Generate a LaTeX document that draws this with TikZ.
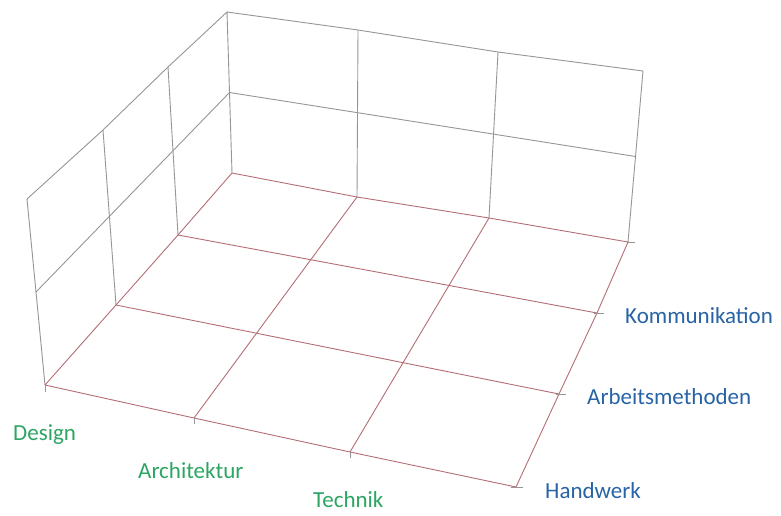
\documentclass[tikz,border=0pt]{standalone}
\usepackage{fontspec}
\setmainfont{Carlito}
\usetikzlibrary{calc}
\definecolor{wallgray}{RGB}{150,150,150}
\definecolor{floorred}{RGB}{180,110,118}
\definecolor{labgreen}{RGB}{45,165,100}
\definecolor{labblue}{RGB}{40,100,165}
\begin{document}
\begin{tikzpicture}[x=1pt,y=-1pt,
  wall/.style={draw=wallgray,line width=0.9pt},
  floorline/.style={draw=floorred,line width=0.9pt},
  tick/.style={draw=wallgray,line width=0.8pt},
  xlab/.style={anchor=base west,inner sep=0pt,text=labgreen,font=\fontsize{23}{26}\selectfont},
  ylab/.style={anchor=base west,inner sep=0pt,text=labblue,font=\fontsize{23}{26}\selectfont}]
\useasboundingbox[fill=white] (0,0) rectangle (781,515);
% floor corners and division points
\coordinate (FL) at (45,385);
\coordinate (L1) at (116,305);
\coordinate (L2) at (178,235);
\coordinate (BC) at (232,173);
\coordinate (F1) at (194,418);
\coordinate (F2) at (350,452);
\coordinate (FR) at (516,487);
\coordinate (R1) at (559,394);
\coordinate (R2) at (597,313);
\coordinate (BR) at (628,242);
\coordinate (B1) at (357,197);
\coordinate (B2) at (489,218);
% wall tops
\coordinate (TFL) at (27,199);
\coordinate (TL1) at (103,130);
\coordinate (TL2) at (168,67);
\coordinate (TBC) at (227,12);
\coordinate (TB1) at (358,30);
\coordinate (TB2) at (498,52);
\coordinate (TBR) at (643,71);
% wall middles
\coordinate (MFL) at ($(FL)!0.5!(TFL)$);
\coordinate (MBC) at ($(BC)!0.5!(TBC)$);
\coordinate (MBR) at ($(BR)!0.5!(TBR)$);
% left wall
\draw[wall] (FL) -- (TFL) -- (TL1) -- (TL2) -- (TBC) -- (BC);
\draw[wall] (L1) -- (TL1);
\draw[wall] (L2) -- (TL2);
\draw[wall] (MFL) -- (MBC);
% back wall
\draw[wall] (TBC) -- (TB1) -- (TB2) -- (TBR) -- (BR);
\draw[wall] (B1) -- (TB1);
\draw[wall] (B2) -- (TB2);
\draw[wall] (MBC) -- (MBR);
% floor
\draw[floorline] (FL) -- (F1) -- (F2) -- (FR) -- (R1) -- (R2) -- (BR) -- (B2) -- (B1) -- (BC) -- (L2) -- (L1) -- (FL);
\draw[floorline] (L1) -- (R1);
\draw[floorline] (L2) -- (R2);
\draw[floorline] (F1) -- (B1);
\draw[floorline] (F2) -- (B2);
% ticks
\draw[tick] (FL) -- ++(0,7);
\draw[tick] (F1) -- ++(0,6);
\draw[tick] (F2) -- ++(0,6);
\draw[tick] ($(FR)+(-5,0)$) -- ++(12,0);
\draw[tick] ($(R1)+(-3,0)$) -- ++(10,0);
\draw[tick] ($(R2)+(-3,0)$) -- ++(10,0);
\draw[tick] (BR) -- ++(7,0);
% labels
\node[xlab] (design) at (13,440) {Design};
\node[xlab] (archi) at (138,478) {Architektur};
\node[xlab] (technik) at (313,507) {Technik};
\node[ylab] (komm) at (625,323) {Kommunikation};
\node[ylab] (arbeit) at (587,404) {Arbeitsmethoden};
\node[ylab] (hand) at (545,498) {Handwerk};
\end{tikzpicture}
\end{document}
